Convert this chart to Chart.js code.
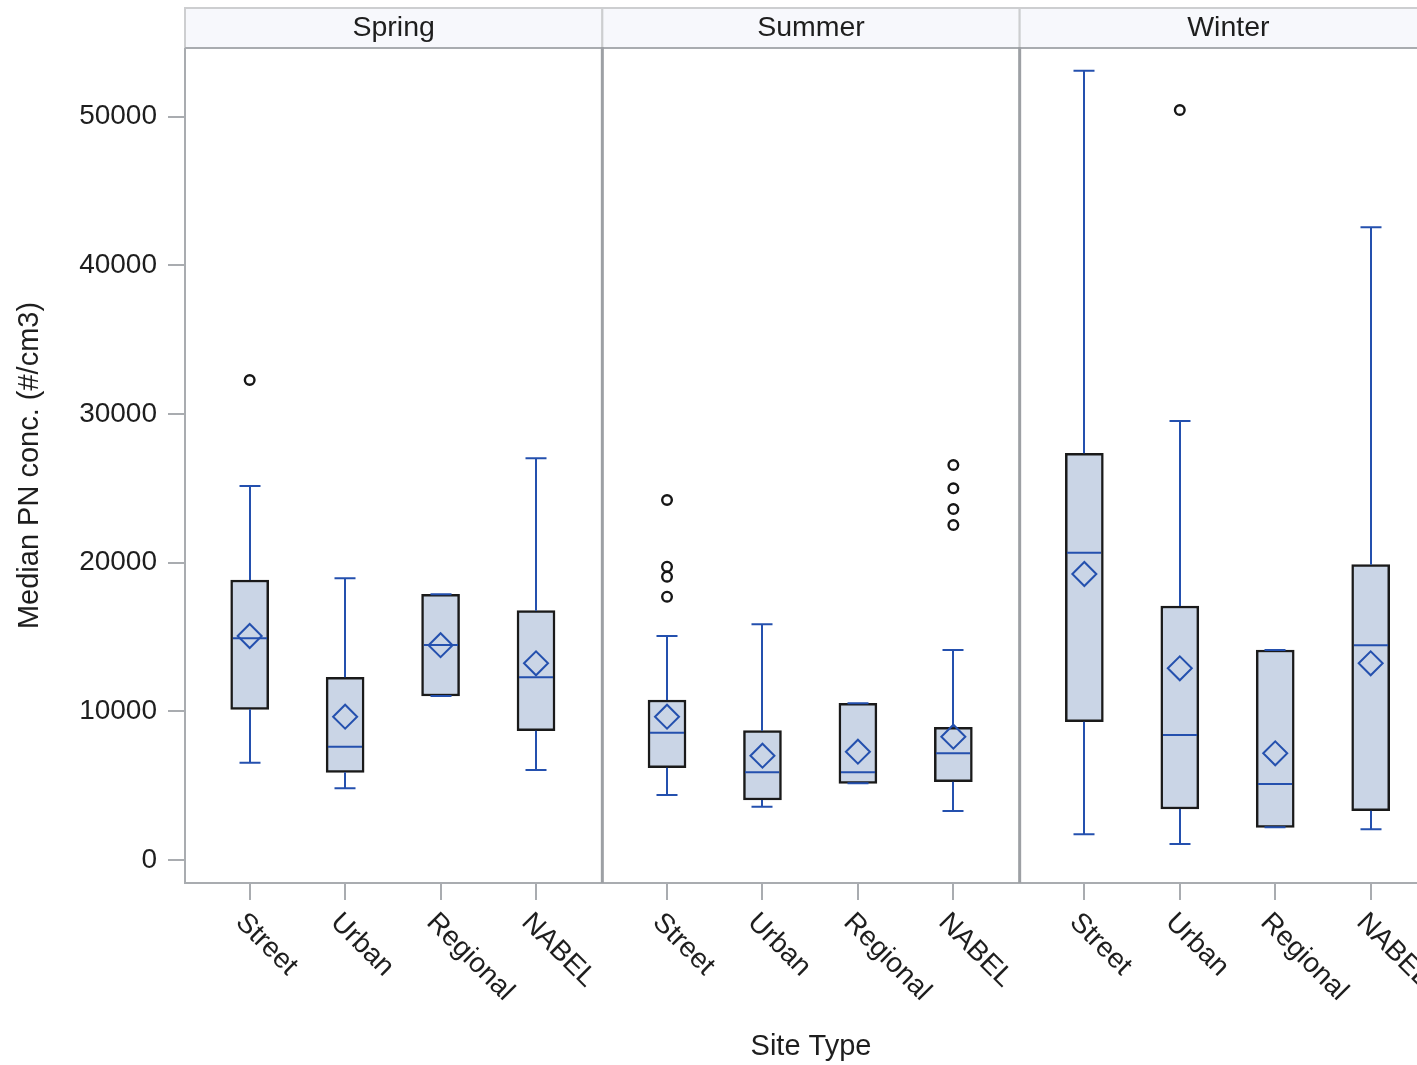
<!DOCTYPE html>
<html>
<head>
<meta charset="utf-8">
<script src="https://cdn.jsdelivr.net/npm/chart.js@4/dist/chart.umd.min.js"></script>
<style>
  html, body { margin: 0; padding: 0; background: #ffffff; overflow: hidden; }
  #wrap { width: 1451px; height: 1065px; }
</style>
</head>
<body>
<div id="wrap"><canvas id="c" width="1451" height="1065"></canvas></div>
<script>
// ---- data (season-major order: Spring, Summer, Winter; each Street, Urban, Regional, NABEL)
const seasons = ['Spring', 'Summer', 'Winter'];
const siteTypes = ['Street', 'Urban', 'Regional', 'NABEL'];
const whiskerLow  = [6545, 4823, 11032, 6054,   4372, 3585, 5159, 3296,   1729, 1076, 2200, 2065];
const q1Values    = [10137, 5899, 11032, 8698,  6209, 4036, 5159, 5267,   9303, 3431, 2200, 3316];
const medianValues= [14913, 7621, 14463, 12290, 8563, 5899, 5899, 7177,   20672, 8408, 5112, 14442];
const q3Values    = [18835, 12290, 17873, 16770, 10763, 8698, 10541, 8926, 27358, 17086, 14126, 19864];
const whiskerHigh = [25158, 18949, 17873, 27021, 15068, 15855, 10541, 14126, 53094, 29531, 14126, 42560];
const meanValues  = [15068, 9640, 14450, 13232, 9640, 7016, 7285, 8294,   19238, 12895, 7177, 13232];
const outlierSeason = [0, 1, 1, 1, 1, 1, 1, 1, 1, 2];
const outlierSite   = [0, 0, 0, 0, 0, 3, 3, 3, 3, 1];
const outlierValues = [32288, 24216, 19730, 19057, 17712, 26571, 25003, 23611, 22535, 50451];
const yTickValues = [0, 10000, 20000, 30000, 40000, 50000];

// ---- layout helpers (x axis in panel units: each season panel spans 1 unit)
const CAT_MARGIN = 0.155, CAT_STEP = 0.2287;
const xPos = (s, i) => s + CAT_MARGIN + i * CAT_STEP;
const groups = [];
seasons.forEach((s, si) => siteTypes.forEach((t, ti) => groups.push({ si, ti })));

const FONT = '"Liberation Sans", Arial, Helvetica, sans-serif';
const TEXT = '#1e1e1e';
const BLUE = '#2450AE';
const FILL = '#CAD5E6';
const FRAME = '#A9ACB0';
const SEP = '#9DA0A4';

const boxData = groups.map((g, k) => ({ x: xPos(g.si, g.ti), y: [q1Values[k], q3Values[k]] }));
const meanData = groups.map((g, k) => ({ x: xPos(g.si, g.ti), y: meanValues[k] }));
const outlierData = outlierValues.map((v, k) => ({ x: xPos(outlierSeason[k], outlierSite[k]), y: v }));

const decor = {
  id: 'decor',
  afterDatasetsDraw(chart) {
    const { ctx, scales: { x, y } } = chart;
    ctx.save();
    ctx.strokeStyle = BLUE;
    ctx.lineWidth = 2;
    groups.forEach((g, k) => {
      const px = Math.round(x.getPixelForValue(xPos(g.si, g.ti)));
      const yq1 = y.getPixelForValue(q1Values[k]);
      const yq3 = y.getPixelForValue(q3Values[k]);
      const ylo = y.getPixelForValue(whiskerLow[k]);
      const yhi = y.getPixelForValue(whiskerHigh[k]);
      const ymed = y.getPixelForValue(medianValues[k]);
      ctx.beginPath();
      ctx.moveTo(px, yq3); ctx.lineTo(px, yhi);
      ctx.moveTo(px, yq1); ctx.lineTo(px, ylo);
      ctx.moveTo(px - 10.5, yhi); ctx.lineTo(px + 10.5, yhi);
      ctx.moveTo(px - 10.5, ylo); ctx.lineTo(px + 10.5, ylo);
      ctx.moveTo(px - 17, ymed); ctx.lineTo(px + 17, ymed);
      ctx.stroke();
    });
    ctx.restore();
  },
  afterDraw(chart) {
    const { ctx, chartArea: a, scales: { x, y } } = chart;
    ctx.save();
    // header strip
    for (let s = 0; s < seasons.length; s++) {
      const l = x.getPixelForValue(s), r = x.getPixelForValue(s + 1);
      ctx.fillStyle = '#F7F8FC';
      ctx.fillRect(l, 8, r - l, a.top - 8);
      ctx.strokeStyle = '#CDCED0';
      ctx.lineWidth = 2;
      ctx.strokeRect(l, 8, r - l, a.top - 8);
      ctx.fillStyle = TEXT;
      ctx.font = '28.5px ' + FONT;
      ctx.textAlign = 'center';
      ctx.textBaseline = 'middle';
      ctx.fillText(seasons[s], (l + r) / 2, 28);
    }
    // frame
    ctx.strokeStyle = FRAME;
    ctx.lineWidth = 2;
    ctx.beginPath();
    ctx.moveTo(a.left, a.top); ctx.lineTo(a.right, a.top);
    ctx.moveTo(a.left, a.top); ctx.lineTo(a.left, a.bottom);
    ctx.lineTo(a.right, a.bottom); ctx.lineTo(a.right, a.top);
    ctx.stroke();
    ctx.strokeStyle = SEP;
    ctx.lineWidth = 3;
    ctx.beginPath();
    for (let s = 1; s < seasons.length; s++) {
      const px = x.getPixelForValue(s);
      ctx.moveTo(px, a.top - 1); ctx.lineTo(px, a.bottom);
    }
    ctx.stroke();
    // x tick marks and rotated labels
    ctx.strokeStyle = FRAME;
    ctx.lineWidth = 2;
    ctx.fillStyle = TEXT;
    ctx.font = '28px ' + FONT;
    ctx.textAlign = 'left';
    ctx.textBaseline = 'middle';
    groups.forEach(g => {
      const px = Math.round(x.getPixelForValue(xPos(g.si, g.ti)));
      ctx.beginPath();
      ctx.moveTo(px, a.bottom); ctx.lineTo(px, a.bottom + 17);
      ctx.stroke();
      ctx.save();
      ctx.translate(px - 10, a.bottom + 35);
      ctx.rotate(Math.PI / 4);
      ctx.fillText(siteTypes[g.ti], 0, 0);
      ctx.restore();
    });
    ctx.restore();
  }
};

new Chart(document.getElementById('c'), {
  type: 'bar',
  data: {
    datasets: [
      {
        type: 'bar',
        data: boxData,
        backgroundColor: FILL,
        borderColor: '#1a1a1a',
        borderWidth: 2.5,
        borderSkipped: false,
        barThickness: 38,
        order: 3
      },
      {
        type: 'scatter',
        data: meanData,
        pointStyle: 'rectRot',
        pointRadius: 12,
        borderColor: BLUE,
        backgroundColor: 'rgba(0,0,0,0)',
        borderWidth: 2,
        order: 2
      },
      {
        type: 'scatter',
        data: outlierData,
        pointStyle: 'circle',
        pointRadius: 4.8,
        borderColor: '#161616',
        backgroundColor: 'rgba(0,0,0,0)',
        borderWidth: 2.4,
        order: 1
      }
    ]
  },
  options: {
    responsive: false,
    animation: false,
    devicePixelRatio: 1,
    layout: { padding: { top: 48, right: 4, bottom: 0, left: 0 } },
    plugins: { legend: { display: false }, tooltip: { enabled: false } },
    scales: {
      x: {
        type: 'linear',
        offset: false,
        min: 0,
        max: seasons.length,
        ticks: { display: false },
        grid: { display: false, offset: false },
        border: { display: false },
        title: { display: true, text: 'Site Type', color: TEXT, font: { family: FONT, size: 29 }, padding: { top: 0, bottom: 1 } },
        afterFit: s => { s.height = 182; }
      },
      y: {
        type: 'linear',
        min: -1547,
        max: 54621,
        afterBuildTicks: s => { s.ticks = yTickValues.map(v => ({ value: v })); },
        ticks: { color: TEXT, font: { family: FONT, size: 28 }, padding: 11, callback: v => String(v) },
        grid: { drawOnChartArea: false, drawTicks: true, tickLength: 17, color: FRAME, lineWidth: 2 },
        border: { display: false },
        title: { display: true, text: 'Median PN conc. (#/cm3)', color: TEXT, font: { family: FONT, size: 29 }, padding: { top: 13, bottom: 0 } },
        afterFit: s => { s.width = 185; }
      }
    }
  },
  plugins: [decor]
});
</script>
</body>
</html>
